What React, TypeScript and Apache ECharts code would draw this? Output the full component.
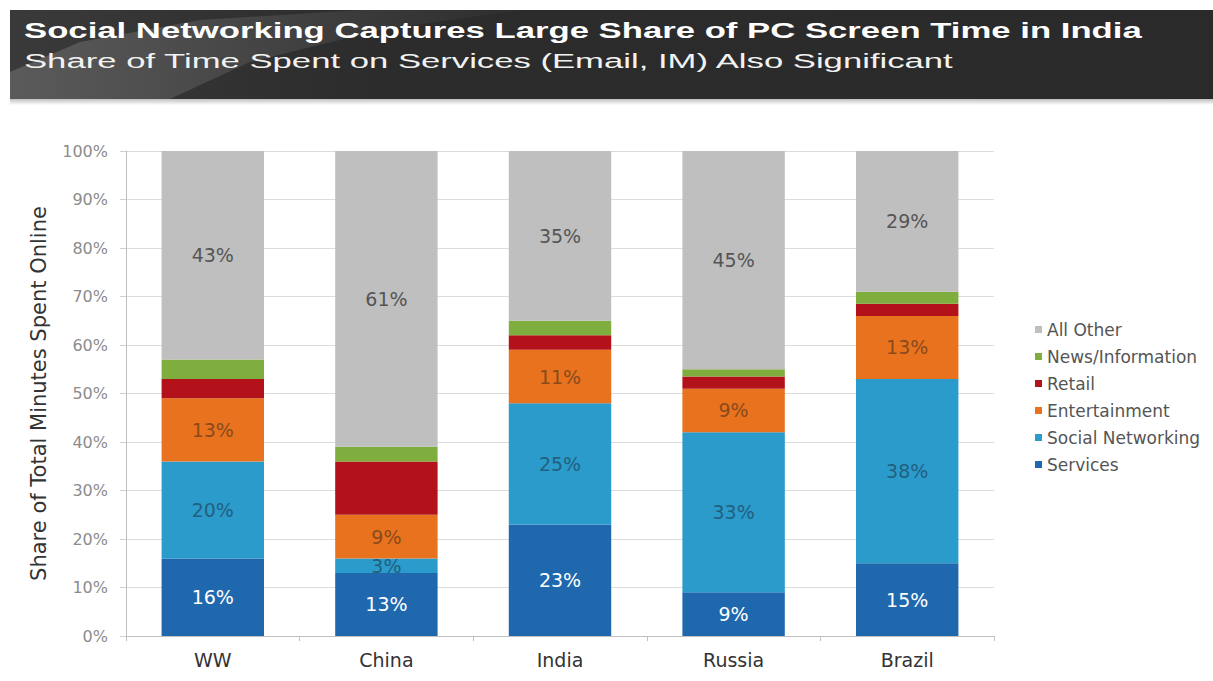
import React, { useEffect, useRef } from "react";
import * as echarts from "echarts";

const categories = ["WW", "China", "India", "Russia", "Brazil"];
const services = [16, 13, 23, 9, 15];
const socialNetworking = [20, 3, 25, 33, 38];
const entertainment = [13, 9, 11, 9, 13];
const retail = [4, 11, 3, 2.5, 2.5];
const newsInformation = [4, 3, 3, 1.5, 2.5];
const allOther = [43, 61, 35, 45, 29];
const yTicks = [0, 10, 20, 30, 40, 50, 60, 70, 80, 90, 100];

const TITLE = "Social Networking Captures Large Share of PC Screen Time in India";
const SUBTITLE = "Share of Time Spent on Services (Email, IM) Also Significant";

function measure(text: string, font: string): number {
  const c = document.createElement("canvas");
  const ctx = c.getContext("2d");
  if (!ctx) return 1;
  ctx.font = font;
  return ctx.measureText(text).width || 1;
}

export default function App() {
  const ref = useRef<HTMLDivElement>(null);
  useEffect(() => {
    if (!ref.current) return;
    const chart = echarts.init(ref.current, null, { renderer: "svg" });
    const F = "DejaVu Sans";
    const TF = "Liberation Sans";
    const tScale = 1118 / measure(TITLE, `bold 22px "${TF}"`);
    const sScale = 932 / measure(SUBTITLE, `21px "${TF}"`);

    const mk = (name: string, data: number[], color: string, label: any) => ({
      name,
      type: "bar",
      stack: "total",
      barWidth: "59%",
      data,
      itemStyle: { color },
      label,
    });
    const lab = (color: string) => ({
      show: true,
      position: "inside",
      color,
      fontFamily: F,
      fontSize: 19,
      formatter: (p: any) => p.value + "%",
    });

    chart.setOption({
      animation: false,
      backgroundColor: "#ffffff",
      graphic: [
        {
          type: "rect",
          shape: { x: 10, y: 10, width: 1203, height: 89 },
          style: {
            fill: new echarts.graphic.LinearGradient(0, 0, 1, 0, [
              { offset: 0, color: "#3a3a3a" },
              { offset: 0.3, color: "#2c2c2c" },
              { offset: 1, color: "#2a2a2a" },
            ]),
          },
          z: 0,
        },
        {
          type: "polygon",
          shape: {
            points: [
              [10, 99], [10, 72], [80, 42], [200, 20], [360, 10], [520, 10],
              [380, 30], [250, 62], [170, 99],
            ],
          },
          style: {
            fill: new echarts.graphic.LinearGradient(0, 0, 1, 0, [
              { offset: 0, color: "rgba(130,130,130,0.45)" },
              { offset: 1, color: "rgba(130,130,130,0.03)" },
            ]),
          },
          z: 1,
        },
        {
          type: "rect",
          shape: { x: 10, y: 99, width: 1203, height: 6 },
          style: {
            fill: new echarts.graphic.LinearGradient(0, 0, 0, 1, [
              { offset: 0, color: "rgba(0,0,0,0.25)" },
              { offset: 1, color: "rgba(0,0,0,0)" },
            ]),
          },
          z: 1,
        },
        {
          type: "text",
          x: 24,
          y: 30,
          scaleX: tScale,
          style: {
            text: TITLE,
            fontFamily: TF,
            fontSize: 22,
            fontWeight: "bold",
            fill: "#ffffff",
            verticalAlign: "middle",
            align: "left",
          },
          z: 2,
        },
        {
          type: "text",
          x: 24,
          y: 61,
          scaleX: sScale,
          style: {
            text: SUBTITLE,
            fontFamily: TF,
            fontSize: 21,
            fill: "#f2f2f2",
            verticalAlign: "middle",
            align: "left",
          },
          z: 2,
        },
      ],
      legend: {
        orient: "vertical",
        left: 1030,
        top: 316,
        itemWidth: 7,
        itemHeight: 7,
        itemGap: 10,
        icon: "rect",
        data: ["All Other", "News/Information", "Retail", "Entertainment", "Social Networking", "Services"],
        textStyle: { fontFamily: F, fontSize: 17, lineHeight: 17, color: "#555555" },
      },
      grid: { left: 126, right: 219, top: 151, bottom: 45 },
      xAxis: {
        type: "category",
        data: categories,
        axisLine: { lineStyle: { color: "#bfbfbf" } },
        axisTick: { show: true, length: 5, lineStyle: { color: "#bfbfbf" } },
        axisLabel: { fontFamily: F, fontSize: 19, color: "#333333", margin: 14 },
      },
      yAxis: {
        type: "value",
        min: 0,
        max: 100,
        interval: 10,
        name: "Share of Total Minutes Spent Online",
        nameLocation: "middle",
        nameGap: 77,
        nameTextStyle: { fontFamily: F, fontSize: 21, color: "#333333" },
        axisLine: { show: true, lineStyle: { color: "#bfbfbf" } },
        axisTick: { show: true, length: 6, lineStyle: { color: "#d0d0d0" } },
        axisLabel: {
          fontFamily: F,
          fontSize: 16,
          color: "#8c8c8c",
          margin: 18,
          formatter: (v: number) => (yTicks.includes(v) ? v + "%" : ""),
        },
        splitLine: { lineStyle: { color: "#dcdcdc" } },
      },
      series: [
        mk("Services", services, "#2068ae", lab("#ffffff")),
        mk("Social Networking", socialNetworking, "#2b9bcb", lab("#22607f")),
        mk("Entertainment", entertainment, "#e8721d", lab("#8a4a1e")),
        mk("Retail", retail, "#b3121a", { show: false }),
        mk("News/Information", newsInformation, "#7fad3e", { show: false }),
        mk("All Other", allOther, "#bfbfbf", lab("#555555")),
      ],
    });
    return () => chart.dispose();
  }, []);
  return (
    <div
      ref={ref}
      style={{ position: "fixed", left: 0, top: 0, width: 1213, height: 681, background: "#fff" }}
    />
  );
}
